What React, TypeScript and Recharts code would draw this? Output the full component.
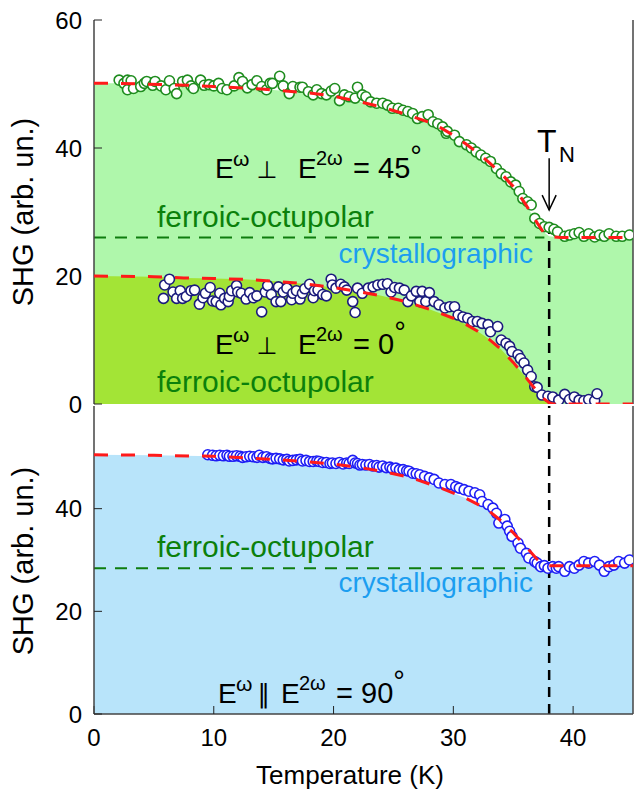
import React from 'react'
import { ComposedChart, XAxis, YAxis, Area, Scatter, ReferenceLine, ReferenceDot } from 'recharts'

type Pt = [number, number]

const xTicks = [0, 10, 20, 30, 40]
const topYTicks = [0, 20, 40, 60]
const bottomYTicks = [0, 20, 40]

// E(w) perp E(2w) = 45 deg, green open circles
const data45: Pt[] = [
  [2.1, 50.6], [2.5, 50.1], [2.8, 50.6], [2.8, 49.1], [3.1, 50.5], [3.3, 49.3], [3.9, 49.6], [4.2, 50.1],
  [4.4, 50.4], [4.9, 49.8], [5.1, 50.4], [5.6, 49.7], [6.0, 49.1], [6.3, 50.5], [6.7, 49.3], [6.9, 48.5],
  [7.4, 50.4], [7.8, 50.6], [8.1, 49.7], [8.3, 49.3], [8.9, 50.6], [9.2, 49.8], [9.6, 49.9], [10.0, 49.7],
  [10.4, 50.1], [10.7, 49.3], [11.1, 49.1], [11.7, 49.7], [12.1, 51.0], [12.4, 50.4], [12.8, 49.4], [13.2, 49.9],
  [13.6, 50.5], [14.0, 49.6], [14.4, 49.1], [14.7, 50.1], [14.9, 50.1], [15.5, 51.2], [15.8, 49.7], [16.3, 48.5],
  [16.6, 49.6], [17.2, 49.5], [17.4, 49.5], [17.9, 48.8], [18.3, 48.3], [18.6, 49.1], [19.0, 48.5], [19.4, 48.3],
  [19.8, 48.9], [20.1, 49.3], [20.5, 47.4], [20.9, 48.3], [21.3, 48.0], [21.8, 47.8], [22.0, 49.5], [22.4, 48.3],
  [22.7, 48.0], [23.1, 47.2], [23.6, 47.0], [24.1, 47.0], [24.5, 46.7], [24.9, 46.2], [25.4, 46.2], [25.8, 45.9],
  [26.2, 45.7], [26.6, 45.4], [27.0, 44.6], [27.4, 44.9], [27.9, 45.2], [28.3, 44.1], [28.7, 43.8], [29.1, 43.3],
  [29.4, 42.3], [29.5, 42.6], [30.1, 42.0], [30.5, 41.0], [31.1, 40.5], [31.5, 40.0], [31.9, 39.4], [32.3, 38.9],
  [32.7, 38.4], [33.1, 37.9], [33.6, 36.8], [34.0, 36.0], [34.4, 35.5], [34.8, 34.7], [35.2, 34.2], [35.5, 33.2],
  [35.8, 32.1], [36.2, 31.6], [36.5, 31.1], [36.8, 29.0], [37.2, 28.2], [37.6, 27.7], [38.0, 27.6], [38.4, 27.3],
  [38.7, 26.9], [39.3, 26.2], [39.7, 26.4], [40.1, 26.6], [40.5, 26.8], [40.9, 26.2], [41.3, 26.6], [41.8, 26.1],
  [42.2, 26.4], [42.6, 26.2], [43.0, 26.6], [43.6, 26.2], [44.1, 26.2], [44.7, 26.4],
]

// E(w) perp E(2w) = 0 deg, navy open circles
const data0: Pt[] = [
  [5.8, 16.5], [5.9, 18.6], [6.3, 19.5], [6.6, 17.5], [6.9, 16.5], [7.2, 17.7], [7.4, 16.5], [7.7, 16.8],
  [8.1, 17.7], [8.4, 17.8], [8.8, 15.6], [9.1, 16.6], [9.3, 17.3], [9.7, 18.2], [9.9, 16.1], [10.2, 16.0],
  [10.5, 17.3], [10.6, 15.5], [10.9, 16.5], [11.2, 16.0], [11.3, 16.8], [11.5, 17.7], [11.9, 18.5], [12.0, 17.5],
  [12.3, 17.3], [12.7, 16.4], [13.0, 17.4], [13.3, 16.6], [13.6, 16.9], [14.0, 14.4], [14.3, 17.5], [14.5, 18.5],
  [14.8, 17.1], [15.2, 16.0], [15.4, 18.3], [15.6, 16.0], [15.8, 17.5], [16.1, 18.1], [16.5, 16.3], [16.6, 17.3],
  [16.9, 17.7], [17.2, 16.4], [17.4, 17.3], [17.6, 18.0], [18.0, 18.7], [18.3, 16.6], [18.4, 17.7], [18.7, 17.8],
  [19.1, 17.1], [19.4, 16.9], [19.8, 19.5], [19.9, 18.6], [20.2, 18.1], [20.6, 18.7], [20.9, 18.3], [21.1, 17.8],
  [21.6, 16.0], [21.8, 14.3], [22.0, 18.1], [22.4, 17.3], [22.9, 18.1], [23.3, 18.3], [23.7, 18.6], [24.1, 18.7],
  [24.5, 18.8], [24.8, 17.5], [25.1, 18.2], [25.5, 18.1], [25.9, 17.8], [26.2, 16.0], [26.5, 16.9], [26.9, 17.6],
  [27.2, 16.0], [27.4, 17.6], [27.7, 16.0], [28.0, 17.4], [28.4, 16.0], [28.8, 15.5], [29.3, 15.0], [29.7, 15.2],
  [30.1, 15.2], [30.4, 13.9], [30.8, 13.6], [31.2, 13.4], [31.6, 12.9], [32.0, 12.9], [32.4, 12.6], [32.9, 12.4],
  [33.1, 11.3], [33.7, 12.1], [34.0, 10.0], [34.4, 9.5], [34.7, 9.0], [34.9, 8.2], [35.4, 7.7], [35.6, 7.1],
  [35.9, 6.4], [36.2, 5.3], [36.5, 4.3], [36.8, 2.7], [37.0, 2.6], [37.4, 1.4], [37.9, 1.2], [38.3, 1.1],
  [38.8, 0.6], [39.3, 1.5], [39.7, 0.7], [40.1, 1.1], [40.5, 0.6], [40.9, 0.5], [41.3, 0.7], [41.8, 0.5],
  [42.0, 1.6],
]

// E(w) || E(2w) = 90 deg, blue open circles
const data90: Pt[] = [
  [9.5, 50.5], [9.9, 50.4], [10.2, 50.3], [10.5, 50.4], [10.8, 50.3], [11.1, 50.4], [11.3, 50.2], [11.6, 50.2],
  [11.9, 50.3], [12.2, 50.2], [12.4, 50.0], [12.7, 50.1], [13.0, 50.2], [13.3, 50.1], [13.6, 50.0], [13.8, 50.4],
  [14.1, 50.0], [14.4, 50.1], [14.7, 49.8], [14.9, 49.7], [15.2, 49.8], [15.5, 49.7], [15.8, 49.5], [16.1, 49.6],
  [16.3, 49.3], [16.6, 49.4], [16.9, 49.5], [17.2, 49.6], [17.4, 49.3], [17.7, 49.4], [18.0, 49.2], [18.3, 49.2],
  [18.6, 49.3], [18.8, 49.2], [19.1, 49.0], [19.4, 49.0], [19.7, 48.8], [19.9, 48.9], [20.2, 48.8], [20.5, 49.0],
  [20.8, 48.7], [21.1, 48.9], [21.3, 48.8], [21.6, 49.4], [21.8, 48.9], [22.0, 48.8], [22.2, 48.5], [22.4, 48.6],
  [22.7, 48.5], [23.0, 48.6], [23.3, 48.3], [23.6, 48.4], [23.8, 48.1], [24.1, 48.3], [24.4, 48.0], [24.7, 48.1],
  [24.9, 47.8], [25.2, 47.9], [25.5, 47.6], [25.8, 47.6], [26.1, 47.4], [26.3, 47.3], [26.6, 46.9], [26.9, 46.8],
  [27.2, 46.6], [27.6, 46.3], [28.0, 46.0], [28.4, 45.7], [28.8, 45.0], [29.3, 44.7], [29.8, 44.7], [30.2, 44.3],
  [30.5, 44.0], [30.9, 43.7], [31.3, 43.4], [31.8, 43.1], [32.2, 42.7], [32.4, 41.4], [32.9, 40.8], [33.3, 40.1],
  [33.6, 39.1], [33.8, 37.2], [34.3, 37.9], [34.5, 36.6], [34.7, 35.6], [34.9, 34.6], [35.4, 33.3], [35.6, 32.3],
  [36.1, 31.3], [36.3, 30.4], [36.8, 29.7], [37.0, 29.4], [37.3, 28.7], [37.6, 28.9], [37.9, 28.4], [38.3, 28.7],
  [38.6, 28.4], [38.8, 28.7], [39.3, 27.8], [39.7, 28.7], [40.1, 28.4], [40.5, 29.0], [40.9, 29.7], [41.3, 29.4],
  [41.8, 29.7], [42.2, 29.0], [42.6, 27.8], [43.0, 28.7], [43.4, 29.0], [43.8, 29.7], [44.3, 29.4], [44.7, 30.0],
]

// fit curves (red dashed)
const fit45: Pt[] = [
  [0, 50.1], [2, 50.1], [4, 50.0], [6, 49.9], [8, 49.8], [10, 49.6], [12, 49.4], [14, 49.2], [16, 48.9],
  [18, 48.6], [20, 48.1], [22, 47.3], [24, 46.4], [26, 45.3], [28, 44.0], [29, 43.1], [30, 42.0], [31, 40.7],
  [32, 39.3], [33, 37.7], [34, 36.0], [35, 34.0], [36, 31.3], [36.5, 29.8], [37, 28.3], [37.5, 26.9],
  [38, 26.2], [39, 26.0], [45, 26.0],
]
const fit0: Pt[] = [
  [0, 20.0], [5, 19.9], [7.5, 19.7], [10, 19.6], [12.5, 19.5], [15, 19.2], [17.5, 18.8], [20, 18.2],
  [22, 17.6], [24, 16.9], [26, 16.0], [28, 14.8], [30, 13.4], [31, 12.5], [32, 11.4], [33, 10.1], [34, 8.5],
  [35, 6.5], [36, 4.3], [36.5, 3.1], [37, 2.0], [37.5, 0.9], [38, 0.2], [38.3, 0], [45, 0],
]
const fit90: Pt[] = [
  [0, 50.5], [5, 50.4], [10, 50.2], [12.5, 49.9], [15, 49.6], [17.5, 49.2], [20, 48.7], [22, 48.1],
  [24, 47.3], [26, 46.3], [27, 45.6], [29, 44.0], [31, 42.1], [32, 40.9], [33, 39.5], [34, 37.6], [35, 35.3],
  [36, 32.8], [37, 30.1], [37.5, 29.2], [38, 28.9], [45, 28.9],
]

const T_N = 38
const level45 = 26
const level90 = 28.4

const FONT = '"Liberation Sans", Arial, sans-serif'
const AXIS = '#444'
const GREEN_TXT = '#0b800b'
const BLUE_TXT = '#1c9ef0'

const rows = (pts: Pt[]) => pts.map(([x, y]) => ({ x, y }))

const ring = (color: string) => (p: any) => (
  <circle cx={p.cx} cy={p.cy} r={5} fill="#fff" stroke={color} strokeWidth={1.6} />
)

const noLabel = () => <g />
const noPoint = () => <g />

// fit drawn as a scatter line so it sits on top of the data circles
const fitLine = { stroke: '#ff1a1a', strokeWidth: 3, strokeDasharray: '14 13', fill: 'none' }

const arrowHead = (p: any) => (
  <path d={`M${p.cx - 7},${p.cy - 15} L${p.cx},${p.cy} L${p.cx + 7},${p.cy - 15}`} fill="none" stroke="#000" strokeWidth={1.5} />
)

const tickStyle = { fill: '#000', fontSize: 24, fontFamily: FONT }

function Formula({ x, y, sym, symX, shift, angle }: { x: number; y: number; sym: string; symX: number; shift: number; angle: string }) {
  return (
    <g fontFamily={FONT} fill="#000">
      <text x={x} y={y} fontSize={28}>E</text>
      <text x={x + 18} y={y - 12} fontSize={21}>ω</text>
      <text x={x + symX} y={y} fontSize={sym === '⊥' ? 24 : 26} textAnchor="middle" fontFamily='"DejaVu Sans", sans-serif'>{sym}</text>
      <text x={x + 83 + shift} y={y} fontSize={28}>E</text>
      <text x={x + 101 + shift} y={y - 13} fontSize={20}>2ω</text>
      <text x={x + 138 + shift} y={y} fontSize={29}>
        = {angle}
        <tspan dy={-12}>°</tspan>
      </text>
    </g>
  )
}

export default function App() {
  return (
    <div style={{ position: 'absolute', left: 0, top: 0, width: 634, height: 796, background: '#fff' }}>
      {/* top panel */}
      <div style={{ position: 'absolute', left: 0, top: 0 }}>
        <ComposedChart width={634} height={430} margin={{ top: 20, right: 0, bottom: 26, left: 0 }}>
          <XAxis type="number" dataKey="x" domain={[0, 45]} allowDataOverflow height={0} tick={false} tickLine={false} axisLine={{ stroke: AXIS, strokeWidth: 1.5 }} />
          <XAxis xAxisId="t" orientation="top" type="number" domain={[0, 45]} ticks={xTicks} height={0} tick={noLabel} tickSize={-8} tickLine={{ stroke: '#222' }} axisLine={{ stroke: AXIS, strokeWidth: 1.5 }} />
          <YAxis type="number" dataKey="y" domain={[0, 60]} allowDataOverflow ticks={topYTicks} width={94} tickSize={-8} tickMargin={20} tick={tickStyle} tickLine={{ stroke: '#222' }} axisLine={{ stroke: AXIS, strokeWidth: 1.5 }} />
          <YAxis yAxisId="r" orientation="right" type="number" domain={[0, 60]} ticks={topYTicks} width={1} tickSize={-8} tick={noLabel} tickLine={{ stroke: '#222' }} axisLine={{ stroke: AXIS, strokeWidth: 1.5 }} />

          <Area data={rows(fit45)} dataKey="y" type="linear" fill="#aff7ab" fillOpacity={1} stroke="none" isAnimationActive={false} />
          <Area data={rows(fit0)} dataKey="y" type="linear" fill="#a3e436" fillOpacity={1} stroke="none" isAnimationActive={false} />

          <ReferenceLine segment={[{ x: 0, y: level45 }, { x: 37.6, y: level45 }]} stroke="#0e7d0e" strokeWidth={2} strokeDasharray="12 9" />

          <Scatter data={rows(data45)} dataKey="y" shape={ring('#1e8c1e')} isAnimationActive={false} />
          <Scatter data={rows(data0)} dataKey="y" shape={ring('#1b1b7c')} isAnimationActive={false} />

          <Scatter data={rows(fit45)} dataKey="y" shape={noPoint} line={fitLine} lineType="joint" isAnimationActive={false} />
          <Scatter data={rows(fit0)} dataKey="y" shape={noPoint} line={fitLine} lineType="joint" isAnimationActive={false} />

          <ReferenceLine segment={[{ x: T_N, y: 0 }, { x: T_N, y: 27 }]} stroke="#000" strokeWidth={2.5} strokeDasharray="10 7" />
          <ReferenceLine segment={[{ x: T_N, y: 30.3 }, { x: T_N, y: 38.4 }]} stroke="#000" strokeWidth={1.5} />
          <ReferenceDot x={T_N} y={30.3} r={1} shape={arrowHead} />
        </ComposedChart>
      </div>

      {/* bottom panel */}
      <div style={{ position: 'absolute', left: 0, top: 0 }}>
        <ComposedChart width={634} height={796} margin={{ top: 406, right: 0, bottom: 0, left: 0 }}>
          <XAxis type="number" dataKey="x" domain={[0, 45]} allowDataOverflow ticks={xTicks} height={82} tickSize={-8} tickMargin={23} tick={tickStyle} tickLine={{ stroke: '#222' }} axisLine={{ stroke: AXIS, strokeWidth: 1.5 }} />
          <XAxis xAxisId="t" orientation="top" type="number" domain={[0, 45]} ticks={xTicks} height={0} tick={noLabel} tickSize={-8} tickLine={{ stroke: '#222' }} axisLine={{ stroke: AXIS, strokeWidth: 1.5 }} />
          <YAxis type="number" dataKey="y" domain={[0, 60]} allowDataOverflow ticks={bottomYTicks} width={94} tickSize={-8} tickMargin={20} tick={tickStyle} tickLine={{ stroke: '#222' }} axisLine={{ stroke: AXIS, strokeWidth: 1.5 }} />
          <YAxis yAxisId="r" orientation="right" type="number" domain={[0, 60]} ticks={bottomYTicks} width={1} tickSize={-8} tick={noLabel} tickLine={{ stroke: '#222' }} axisLine={{ stroke: AXIS, strokeWidth: 1.5 }} />

          <Area data={rows(fit90)} dataKey="y" type="linear" fill="#b8e4fa" fillOpacity={1} stroke="none" isAnimationActive={false} />

          <ReferenceLine segment={[{ x: 0, y: level90 }, { x: 37.6, y: level90 }]} stroke="#0e7d0e" strokeWidth={2} strokeDasharray="12 9" />

          <Scatter data={rows(data90)} dataKey="y" shape={ring('#1e1ef5')} isAnimationActive={false} />
          <Scatter data={rows(fit90)} dataKey="y" shape={noPoint} line={fitLine} lineType="joint" isAnimationActive={false} />

          <ReferenceLine segment={[{ x: T_N, y: 0 }, { x: T_N, y: 60 }]} stroke="#000" strokeWidth={2.5} strokeDasharray="10 7" />
        </ComposedChart>
      </div>

      {/* annotations */}
      <svg width={634} height={796} style={{ position: 'absolute', left: 0, top: 0, pointerEvents: 'none' }}>
        <Formula x={215} y={178} sym="⊥" symX={52} shift={0} angle="45" />
        <Formula x={215} y={354} sym="⊥" symX={52} shift={0} angle="0" />
        <Formula x={218} y={703} sym="∥" symX={46} shift={-20} angle="90" />

        <g fontFamily={FONT}>
          <text x={157} y={227} fill={GREEN_TXT} fontSize={30}>ferroic-octupolar</text>
          <text x={157} y={392} fill={GREEN_TXT} fontSize={30}>ferroic-octupolar</text>
          <text x={157} y={557} fill={GREEN_TXT} fontSize={30}>ferroic-octupolar</text>
          <text x={533} y={263} fill={BLUE_TXT} fontSize={28} textAnchor="end">crystallographic</text>
          <text x={533} y={592} fill={BLUE_TXT} fontSize={28} textAnchor="end">crystallographic</text>
        </g>

        <g fontFamily={FONT} fill="#000">
          <text x={537} y={152} fontSize={32}>T</text>
          <text x={559} y={162} fontSize={22}>N</text>
          <text x={33} y={212} fontSize={29} textAnchor="middle" transform="rotate(-90 33 212)">SHG (arb. un.)</text>
          <text x={33} y={561} fontSize={29} textAnchor="middle" transform="rotate(-90 33 561)">SHG (arb. un.)</text>
          <text x={350} y={784} fontSize={26} textAnchor="middle">Temperature (K)</text>
        </g>
      </svg>
    </div>
  )
}
